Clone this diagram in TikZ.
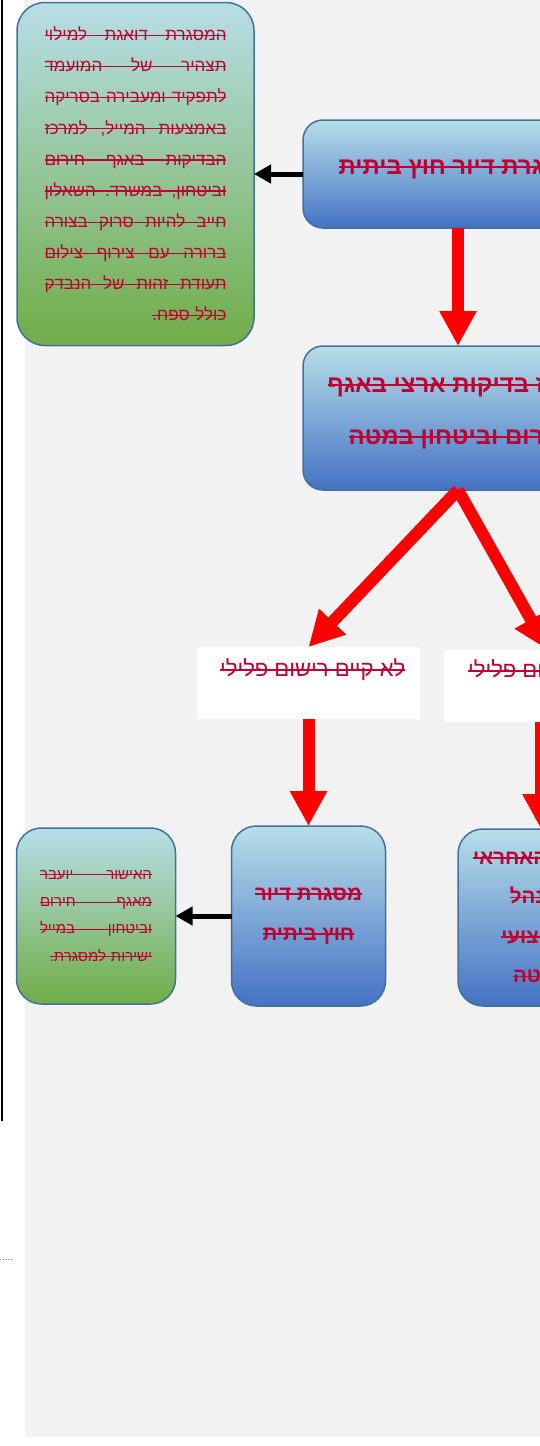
\documentclass[tikz,border=0pt]{standalone}
\usepackage{fontspec}
\usetikzlibrary{arrows.meta,positioning}
\newfontfamily\hebfont[Script=Hebrew]{Liberation Sans}
\TeXXeTstate=1
\definecolor{txtred}{RGB}{190,0,50}
\definecolor{boxline}{RGB}{65,113,156}
\definecolor{lightcyan}{RGB}{183,222,232}
\definecolor{boxblue}{RGB}{68,114,196}
\definecolor{boxgreen}{RGB}{112,173,71}
\definecolor{pagegray}{RGB}{242,242,242}
% struck out hebrew text
\newcommand{\strk}[1]{\leavevmode\setbox0\hbox{#1}\rlap{\rule[0.27em]{\wd0}{0.07em}}\box0}
\newcommand{\heb}[1]{\strk{\hebfont\beginR #1\endR}}
\newcommand{\hebj}[2]{\strk{\hbox to #1{\hebfont\beginR #2\endR}}}

\begin{document}
\begin{tikzpicture}[x=1pt,y=-1pt,
    bluebox/.style={draw=boxline,line width=1.5pt,rounded corners=20pt,top color=lightcyan,bottom color=boxblue,inner sep=0pt,outer sep=0pt,text=txtred,align=center},
    greenbox/.style={draw=boxline,line width=1.5pt,rounded corners=28pt,top color=lightcyan,bottom color=boxgreen,inner sep=0pt,outer sep=0pt,text=txtred,align=right},
    lblbox/.style={fill=white,inner sep=0pt,outer sep=0pt},
    lbltext/.style={inner sep=0pt,text=txtred,font=\fontsize{22}{24}\selectfont},
    redarrow/.style={draw=red,line width=12pt,-{Triangle[width=35pt,length=35pt]}},
    blackarrow/.style={draw=black,line width=5pt,-{Triangle[width=18pt,length=17pt]}}]
    \useasboundingbox (0,0) rectangle (540,1446);
    \clip (0,0) rectangle (540,1446);
    \fill[pagegray] (25,0) rectangle (540,1437);
    \draw[line width=2pt] (2,0) -- (2,1121);
    \draw[gray,dotted,line width=0.8pt] (0,1259) -- (13,1259);
    %\draw[help lines,step=50] (0,0) grid (540,1446);
    \node[bluebox,minimum width=310pt,minimum height=108pt,font=\bfseries\fontsize{24}{52}\selectfont] (home) at (458,174) {\smash{\heb{מסגרת דיור חוץ ביתית}}} ;
    \node[bluebox,minimum width=310pt,minimum height=144pt,font=\bfseries\fontsize{24}{52}\selectfont] (center) [below=118pt of home] {\smash{\heb{מרכז בדיקות ארצי באגף}}\\ \smash{\heb{חירום וביטחון במטה}}} ;
    \node[greenbox,minimum width=237pt,minimum height=343pt,text width=182pt,font=\fontsize{17}{31.1}\selectfont] (fill) [left=49pt of home] {
      \hebj{182pt}{המסגרת\hfill דואגת\hfill למילוי}\\
      \hebj{182pt}{תצהיר\hfill של\hfill המועמד}\\
      \hebj{182pt}{לתפקיד\hfill ומעבירה\hfill בסריקה}\\
      \hebj{182pt}{באמצעות\hfill המייל,\hfill למרכז}\\
      \hebj{182pt}{הבדיקות\hfill באגף\hfill חירום}\\
      \hebj{182pt}{וביטחון,\hfill במשרד.\hfill השאלון}\\
      \hebj{182pt}{חייב\hfill להיות\hfill סרוק\hfill בצורה}\\
      \hebj{182pt}{ברורה\hfill עם\hfill צירוף\hfill צילום}\\
      \hebj{182pt}{תעודת\hfill זהות\hfill של\hfill הנבדק}\\
      \heb{כולל ספח.}} ;
    \node[lblbox,minimum width=223pt,minimum height=72pt] (nocrime) at (308.5,683) {} ;
    \node[lbltext,anchor=west] (nocrime-txt) at ([xshift=23pt,yshift=-23pt]nocrime.north west) {\heb{לא קיים רישום פלילי}} ;
    \node[lblbox,minimum width=194pt,minimum height=72pt] (crime) at (541,686) {} ;
    \node[lbltext,anchor=west] (crime-txt) at ([xshift=24pt,yshift=-21pt]crime.north west) {\heb{קיים רישום פלילי}} ;
    \node[bluebox,rounded corners=25pt,minimum width=154pt,minimum height=180pt,font=\bfseries\fontsize{20.5}{40}\selectfont] (frame) [below=107pt of nocrime] {\heb{מסגרת דיור}\\ \heb{חוץ ביתית}} ;
    \node[bluebox,rounded corners=25pt,minimum width=166pt,minimum height=177pt,font=\bfseries\fontsize{20.5}{39.5}\selectfont] (resp) [below=107pt of crime] {\heb{הגורם האחראי}\\ \heb{במנהל}\\ \heb{המקצועי}\\ \heb{במטה}} ;
    \node[greenbox,rounded corners=25pt,minimum width=159pt,minimum height=176pt,text width=112pt,font=\fontsize{15}{27.3}\selectfont] (approval) [left=56pt of frame] {
      \hebj{112pt}{האישור\hfill יועבר}\\
      \hebj{112pt}{מאגף\hfill חירום}\\
      \hebj{112pt}{וביטחון\hfill במייל}\\
      \heb{ישירות למסגרת.}} ;
    \path
    (home.west) edge[blackarrow] (fill.east)
    (home.south) edge[redarrow] (center.north)
    (center.south) edge[redarrow] (nocrime.north)
    (center.south) edge[redarrow] ([xshift=7pt]crime.north)
    (nocrime.south) edge[redarrow] (frame.north)
    (crime.south) edge[redarrow] (resp.north)
    (frame.west) edge[blackarrow] (approval.east);
\end{tikzpicture}
\end{document}
